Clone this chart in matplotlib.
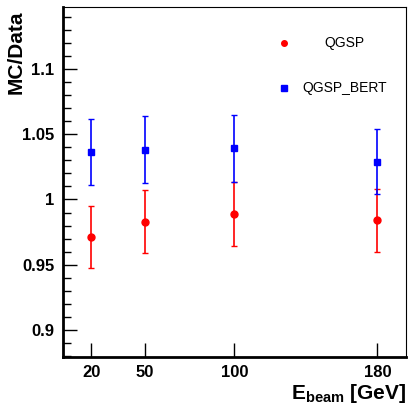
import matplotlib
matplotlib.use('Agg')
import matplotlib.pyplot as plt

plt.rcParams['font.family'] = ['Liberation Sans', 'DejaVu Sans']
plt.rcParams['mathtext.fontset'] = 'custom'
plt.rcParams['mathtext.rm'] = 'Liberation Sans:bold'
plt.rcParams['mathtext.bf'] = 'Liberation Sans:bold'

# beam energies (GeV)
energy = [20, 50, 100, 180]

# MC/Data ratios
qgsp = [0.971, 0.983, 0.989, 0.984]
qgsp_err = [0.024, 0.0245, 0.0245, 0.024]
qgsp_bert = [1.0366, 1.0381, 1.0393, 1.0292]
qgsp_bert_err = [0.0253, 0.0258, 0.0255, 0.025]

yticks = [0.9, 0.95, 1.0, 1.05, 1.1]
yticklabels = ['0.9', '0.95', '1', '1.05', '1.1']

fig = plt.figure(figsize=(4.08, 4.07), dpi=100)
ax = fig.add_axes([0.154, 0.123, 0.841, 0.860])

ax.errorbar(energy, qgsp, yerr=qgsp_err, fmt='o', color='red', ms=5,
            elinewidth=1.2, capsize=2, capthick=1)
ax.errorbar(energy, qgsp_bert, yerr=qgsp_bert_err, fmt='s', color='blue', ms=5,
            elinewidth=1.2, capsize=2, capthick=1)

ax.set_xlim(4, 196)
ax.set_ylim(0.879, 1.148)

ax.set_xticks(energy)
ax.set_xticklabels([str(e) for e in energy])
ax.set_yticks(yticks)
ax.set_yticklabels(yticklabels)
ax.set_yticks([0.88 + 0.01 * i for i in range(27)], minor=True)

ax.tick_params(axis='both', which='major', direction='in', length=10, width=1,
               labelsize=12, pad=6)
ax.tick_params(axis='y', which='minor', direction='in', length=5.5, width=1)
ax.tick_params(top=False, right=False)
for lbl in ax.get_xticklabels() + ax.get_yticklabels():
    lbl.set_fontweight('bold')

ax.spines['left'].set_linewidth(2)
ax.spines['bottom'].set_linewidth(2)
ax.spines['top'].set_linewidth(0.8)
ax.spines['right'].set_linewidth(0.8)

# y title sits at the top left, reading upwards
fig.text(16 / 408, 1 - 10 / 407, 'MC/Data', fontsize=15, fontweight='bold',
         rotation=90, ha='center', va='top')
ax.set_xlabel(r'E$_{\mathbf{beam}}$ [GeV]', fontsize=15, fontweight='bold',
              loc='right', labelpad=1)

# legend
ax.plot([0.644], [0.897], 'o', color='red', ms=4, transform=ax.transAxes)
ax.text(0.822, 0.897, 'QGSP', fontsize=10, ha='center', va='center',
        transform=ax.transAxes)
ax.plot([0.644], [0.769], 's', color='blue', ms=4, transform=ax.transAxes)
ax.text(0.822, 0.769, 'QGSP_BERT', fontsize=10, ha='center', va='center',
        transform=ax.transAxes)

fig.savefig('out.png', dpi=100)
